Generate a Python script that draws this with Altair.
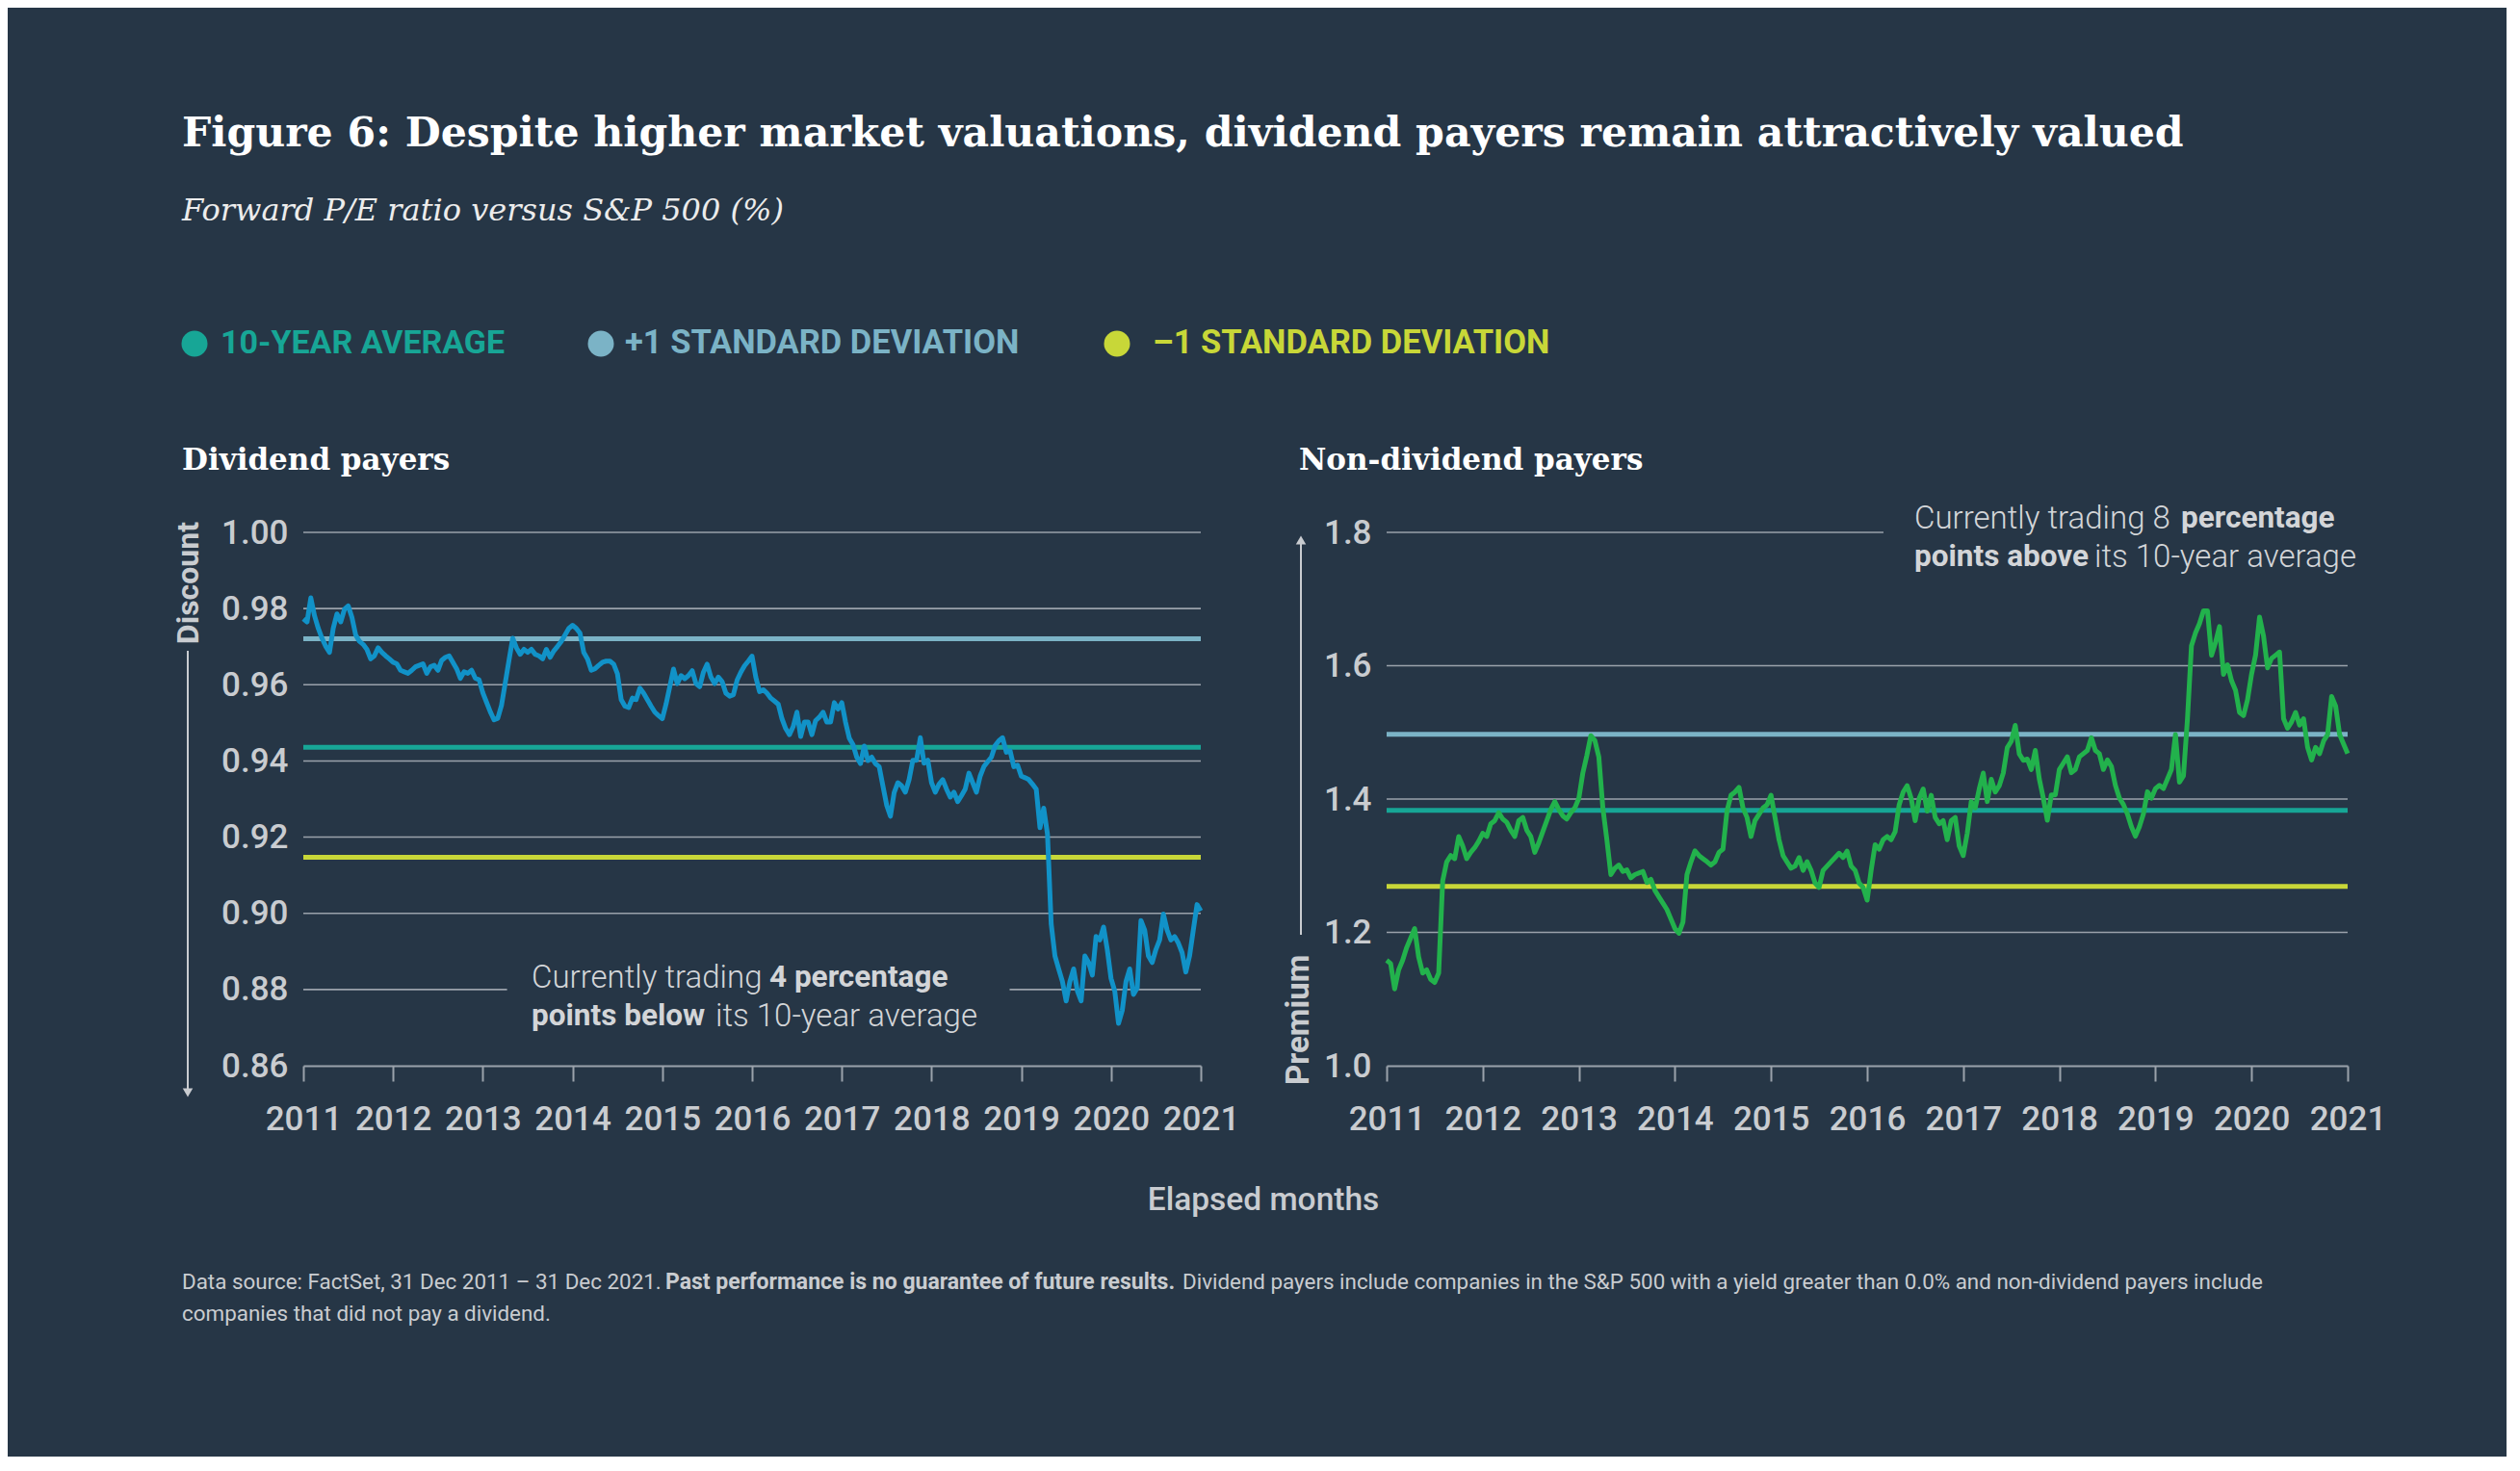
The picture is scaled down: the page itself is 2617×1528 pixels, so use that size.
import altair as alt
import pandas as pd

BG = "#263646"
SERIF = "DejaVu Serif"
SANS = "Roboto"
GREY = "#c9ccd0"
NOTE = "#d3d5d8"
GRID = "#9aa2ab"
AVG_C = "#17a696"
UP_C = "#7bb3c6"
DN_C = "#c8d738"

# half-month steps from Jan 2011 to Jan 2021
STEPS = list(range(241))
YEARS = [2011 + s / 24 for s in STEPS]

DIV = [
    0.9773, 0.9765, 0.9828, 0.9781, 0.9748, 0.9722, 0.9701, 0.9685, 0.9748, 0.9786,
    0.9765, 0.9798, 0.9807, 0.9777, 0.9731, 0.9714, 0.9706, 0.9693, 0.9668, 0.9676,
    0.9697, 0.9685, 0.9676, 0.9668, 0.9659, 0.9655, 0.9638, 0.9634, 0.9630, 0.9638,
    0.9647, 0.9651, 0.9655, 0.9630, 0.9647, 0.9651, 0.9638, 0.9664, 0.9672, 0.9676,
    0.9659, 0.9642, 0.9617, 0.9634, 0.9630, 0.9638, 0.9617, 0.9613, 0.9579, 0.9554,
    0.9529, 0.9508, 0.9512, 0.9546, 0.9605, 0.9664, 0.9722, 0.9697, 0.9680, 0.9693,
    0.9685, 0.9693, 0.9680, 0.9676, 0.9668, 0.9693, 0.9672, 0.9689, 0.9701, 0.9714,
    0.9731, 0.9748, 0.9756, 0.9748, 0.9735, 0.9685, 0.9668, 0.9638, 0.9642, 0.9651,
    0.9659, 0.9662, 0.9662, 0.9654, 0.9629, 0.9561, 0.9544, 0.9540, 0.9565, 0.9561,
    0.9591, 0.9578, 0.9561, 0.9544, 0.9528, 0.9519, 0.9511, 0.9549, 0.9595, 0.9641,
    0.9603, 0.9624, 0.9616, 0.9624, 0.9637, 0.9603, 0.9595, 0.9633, 0.9654, 0.9620,
    0.9603, 0.9620, 0.9608, 0.9578, 0.9570, 0.9574, 0.9612, 0.9633, 0.9650, 0.9662,
    0.9675, 0.9620, 0.9582, 0.9587, 0.9578, 0.9565, 0.9557, 0.9549, 0.9511, 0.9485,
    0.9469, 0.9490, 0.9528, 0.9464, 0.9502, 0.9502, 0.9469, 0.9506, 0.9515, 0.9528,
    0.9502, 0.9502, 0.9553, 0.9536, 0.9553, 0.9502, 0.9460, 0.9443, 0.9410, 0.9393,
    0.9439, 0.9401, 0.9410, 0.9393, 0.9385, 0.9334, 0.9284, 0.9255, 0.9317, 0.9343,
    0.9335, 0.9318, 0.9351, 0.9402, 0.9402, 0.9461, 0.9394, 0.9402, 0.9343, 0.9318,
    0.9339, 0.9351, 0.9326, 0.9305, 0.9318, 0.9293, 0.9309, 0.9326, 0.9368, 0.9343,
    0.9318, 0.9360, 0.9385, 0.9398, 0.9410, 0.9440, 0.9453, 0.9461, 0.9423, 0.9427,
    0.9385, 0.9389, 0.9360, 0.9356, 0.9351, 0.9339, 0.9326, 0.9225, 0.9276, 0.9208,
    0.8972, 0.8888, 0.8854, 0.8821, 0.8770, 0.8821, 0.8854, 0.8796, 0.8770, 0.8888,
    0.8871, 0.8838, 0.8939, 0.8930, 0.8964, 0.8905, 0.8829, 0.8796, 0.8711, 0.8745,
    0.8821, 0.8854, 0.8787, 0.8804, 0.8981, 0.8956, 0.8888, 0.8871, 0.8905, 0.8930,
    0.8998, 0.8956, 0.8930, 0.8939, 0.8922, 0.8897, 0.8846, 0.8888, 0.8956, 0.9023,
    0.9006,
]

NON_DIV = [
    1.1581, 1.1533, 1.1152, 1.1438, 1.1581, 1.1771, 1.1914, 1.2057, 1.1629, 1.1390,
    1.1438, 1.1295, 1.1248, 1.1390, 1.2771, 1.3057, 1.3152, 1.3105, 1.3438, 1.3295,
    1.3105, 1.3200, 1.3271, 1.3367, 1.3486, 1.3438, 1.3629, 1.3676, 1.3795, 1.3700,
    1.3652, 1.3533, 1.3438, 1.3676, 1.3724, 1.3533, 1.3438, 1.3200, 1.3343, 1.3510,
    1.3676, 1.3843, 1.3962, 1.3843, 1.3748, 1.3700, 1.3795, 1.3867, 1.4010, 1.4390,
    1.4652, 1.4950, 1.4880, 1.4629, 1.3867, 1.3390, 1.2867, 1.2962, 1.3010, 1.2914,
    1.2938, 1.2819, 1.2867, 1.2890, 1.2914, 1.2748, 1.2795, 1.2629, 1.2533, 1.2438,
    1.2343, 1.2200, 1.2057, 1.1986, 1.2152, 1.2867, 1.3057, 1.3224, 1.3152, 1.3105,
    1.3060, 1.3010, 1.3057, 1.3200, 1.3248, 1.3819, 1.4057, 1.4105, 1.4176, 1.3867,
    1.3724, 1.3438, 1.3676, 1.3771, 1.3867, 1.3914, 1.4057, 1.3724, 1.3390, 1.3152,
    1.3057, 1.2962, 1.2995, 1.3123, 1.2930, 1.3060, 1.2930, 1.2740, 1.2675, 1.2930,
    1.2995, 1.3060, 1.3123, 1.3187, 1.3123, 1.3219, 1.2995, 1.2930, 1.2740, 1.2675,
    1.2483, 1.2930, 1.3315, 1.3248, 1.3390, 1.3438, 1.3390, 1.3510, 1.3914, 1.4105,
    1.4200, 1.4010, 1.3676, 1.4010, 1.4152, 1.3819, 1.4057, 1.3724, 1.3629, 1.3676,
    1.3390, 1.3676, 1.3724, 1.3295, 1.3152, 1.3486, 1.3962, 1.3867, 1.4152, 1.4390,
    1.3962, 1.4295, 1.4105, 1.4200, 1.4390, 1.4771, 1.4867, 1.5105, 1.4676, 1.4581,
    1.4600, 1.4443, 1.4729, 1.4300, 1.4014, 1.3681, 1.4062, 1.4062, 1.4443, 1.4538,
    1.4633, 1.4395, 1.4443, 1.4633, 1.4681, 1.4729, 1.4919, 1.4729, 1.4681, 1.4443,
    1.4586, 1.4490, 1.4205, 1.4014, 1.3919, 1.3776, 1.3586, 1.3443, 1.3586, 1.3776,
    1.4110, 1.4014, 1.4157, 1.4205, 1.4157, 1.4300, 1.4443, 1.4967, 1.4252, 1.4348,
    1.5205, 1.6300, 1.6490, 1.6633, 1.6824, 1.6824, 1.6157, 1.6348, 1.6586, 1.5871,
    1.6014, 1.5776, 1.5633, 1.5300, 1.5252, 1.5490, 1.5871, 1.6157, 1.6729, 1.6443,
    1.5967, 1.6110, 1.6157, 1.6205, 1.5205, 1.5062, 1.5157, 1.5300, 1.5110, 1.5205,
    1.4776, 1.4586, 1.4776, 1.4681, 1.4871, 1.4967, 1.5538, 1.5395, 1.4967, 1.4824,
    1.4681,
]

# 10-year average, +1 sd, -1 sd
DIV_BANDS = [0.9436, 0.9721, 0.9147]
NON_DIV_BANDS = [1.383, 1.497, 1.269]
BAND_COLORS = [AVG_C, UP_C, DN_C]

DIV_TICKS = [0.86, 0.88, 0.90, 0.92, 0.94, 0.96, 0.98, 1.00]
NON_DIV_TICKS = [1.0, 1.2, 1.4, 1.6, 1.8]
YEAR_TICKS = list(range(2011, 2022))

# gridlines (broken where the annotation sits)
DIV_GRID = [0.88, 0.88, 0.90, 0.92, 0.94, 0.96, 0.98, 1.00]
DIV_GRID_FROM = [2011, 2018.87, 2011, 2011, 2011, 2011, 2011, 2011]
DIV_GRID_TO = [2013.27, 2021, 2021, 2021, 2021, 2021, 2021, 2021]
NON_DIV_GRID = [1.2, 1.4, 1.6, 1.8]
NON_DIV_GRID_FROM = [2011, 2011, 2011, 2011]
NON_DIV_GRID_TO = [2021, 2021, 2021, 2016.17]

LEFT_W, RIGHT_W, PANEL_H = 932, 998, 554


def txt(text, x, y, size, color=GREY, weight="normal", font=SANS, align="left",
        style="normal", angle=0):
    return (
        alt.Chart(pd.DataFrame({"t": [text]}))
        .mark_text(align=align, baseline="middle", font=font, fontSize=size,
                   fontWeight=weight, fontStyle=style, color=color, angle=angle)
        .encode(text="t:N", x=alt.value(x), y=alt.value(y))
    )


def dot(x, y, color, size=729, shape="circle"):
    return (
        alt.Chart(pd.DataFrame({"a": [0]}))
        .mark_point(shape=shape, filled=True, opacity=1, size=size, color=color)
        .encode(x=alt.value(x), y=alt.value(y))
    )


def vline(x, y0, y1):
    return (
        alt.Chart(pd.DataFrame({"a": [0]}))
        .mark_rule(color=GREY, strokeWidth=2)
        .encode(x=alt.value(x), y=alt.value(y0), y2=alt.value(y1))
    )


def panel(values, bands, grid, gfrom, gto, ticks, fmt, color, width, extra):
    x_scale = alt.Scale(domain=[2011, 2021], nice=False, zero=False)
    y_scale = alt.Scale(domain=[ticks[0], ticks[-1]], nice=False, zero=False)
    x_axis = alt.Axis(values=YEAR_TICKS, format="d", title=None, grid=False, zindex=1,
                      domainColor=GRID, domainWidth=2, tickColor=GRID, tickWidth=2,
                      tickSize=16, labelPadding=22, labelFlush=False, labelOverlap=False)
    y_axis = alt.Axis(values=ticks, format=fmt, title=None, grid=False, domain=False,
                      ticks=False, labelPadding=16, zindex=1)

    series = pd.DataFrame({"year": YEARS, "v": values})
    grid_df = pd.DataFrame({"v": grid, "x0": gfrom, "x1": gto})
    band_df = pd.DataFrame({"v": bands, "c": BAND_COLORS})

    grid_layer = alt.Chart(grid_df).mark_rule(color=GRID, strokeWidth=1.6).encode(
        x=alt.X("x0:Q", scale=x_scale, axis=x_axis),
        x2="x1:Q",
        y=alt.Y("v:Q", scale=y_scale, axis=y_axis),
    )
    band_layer = alt.Chart(band_df).mark_rule(strokeWidth=5).encode(
        y=alt.Y("v:Q", scale=y_scale),
        color=alt.Color("c:N", scale=None, legend=None),
    )
    line_layer = alt.Chart(series).mark_line(color=color, strokeWidth=5,
                                             strokeJoin="round").encode(
        x=alt.X("year:Q", scale=x_scale),
        y=alt.Y("v:Q", scale=y_scale),
    )
    return alt.layer(*extra, grid_layer, band_layer, line_layer).properties(
        width=width, height=PANEL_H
    )


# invisible full-page frame: fixes the overall bounds of the figure
frame = (
    alt.Chart(pd.DataFrame({"a": [0]}))
    .mark_rect(color=BG, opacity=0)
    .encode(x=alt.value(-307), x2=alt.value(2288), y=alt.value(-545), y2=alt.value(960))
)

left_extra = [
    frame,
    txt("Figure 6: Despite higher market valuations, dividend payers remain attractively valued",
        -126, -414, 42.6, "#ffffff", "bold", SERIF),
    txt("Forward P/E ratio versus S&P 500 (%)", -126, -334, 32, "#ececec", "normal", SERIF,
        style="italic"),
    dot(-113, -196, AVG_C),
    txt("10-YEAR AVERAGE", -86, -196, 34, AVG_C, "bold"),
    dot(309, -196, UP_C),
    txt("+1 STANDARD DEVIATION", 334, -196, 34.5, UP_C, "bold"),
    dot(845, -196, DN_C),
    txt("\u20131 STANDARD DEVIATION", 882, -196, 34.5, DN_C, "bold"),
    txt("Dividend payers", -126, -74, 31, "#ffffff", "bold", SERIF),
    txt("Discount", -119, -11, 32, GREY, "bold", align="right", angle=270),
    vline(-120, 123, 578),
    dot(-120, 582, GREY, size=110, shape="triangle-down"),
    txt("Currently trading", 237, 463, 33, NOTE, 300),
    txt("4 percentage", 484, 463, 31.5, NOTE, "bold"),
    txt("points below", 237, 503, 31.5, NOTE, "bold"),
    txt("its 10-year average", 428, 503, 33, NOTE, 300),
    txt("Elapsed months", 997, 694, 33.5, GREY, 500, align="center"),
    txt("Data source: FactSet, 31 Dec 2011 \u2013 31 Dec 2021.", -126, 779, 22.4, GREY),
    txt("Past performance is no guarantee of future results.", 376, 779, 23, GREY, "bold"),
    txt("Dividend payers include companies in the S&P 500 with a yield greater than 0.0% "
        "and non-dividend payers include", 913, 779, 22.4, GREY),
    txt("companies that did not pay a dividend.", -126, 812, 22.4, GREY),
]

right_extra = [
    txt("Non-dividend payers", -91, -74, 31, "#ffffff", "bold", SERIF),
    txt("Premium", -91, 574, 33, GREY, "bold", align="left", angle=270),
    vline(-89, 12, 418),
    dot(-89, 8, GREY, size=110, shape="triangle-up"),
    txt("Currently trading 8", 548, -14, 33, NOTE, 300),
    txt("percentage", 825, -14, 31.5, NOTE, "bold"),
    txt("points above", 548, 26, 31.5, NOTE, "bold"),
    txt("its 10-year average", 735, 26, 33, NOTE, 300),
]

left = panel(DIV, DIV_BANDS, DIV_GRID, DIV_GRID_FROM, DIV_GRID_TO, DIV_TICKS, ".2f",
             "#1192c8", LEFT_W, left_extra)
right = panel(NON_DIV, NON_DIV_BANDS, NON_DIV_GRID, NON_DIV_GRID_FROM, NON_DIV_GRID_TO,
              NON_DIV_TICKS, ".1f", "#22b24c", RIGHT_W, right_extra)

chart = (
    alt.hconcat(left, right, spacing=193, bounds="flush")
    .properties(padding=0, background=BG)
    .configure_view(stroke=None)
    .configure_axis(labelFont=SANS, labelFontSize=35, labelFontWeight=500, labelColor=GREY)
)

chart.save("out.html", embed_options={"renderer": "svg", "actions": False})
